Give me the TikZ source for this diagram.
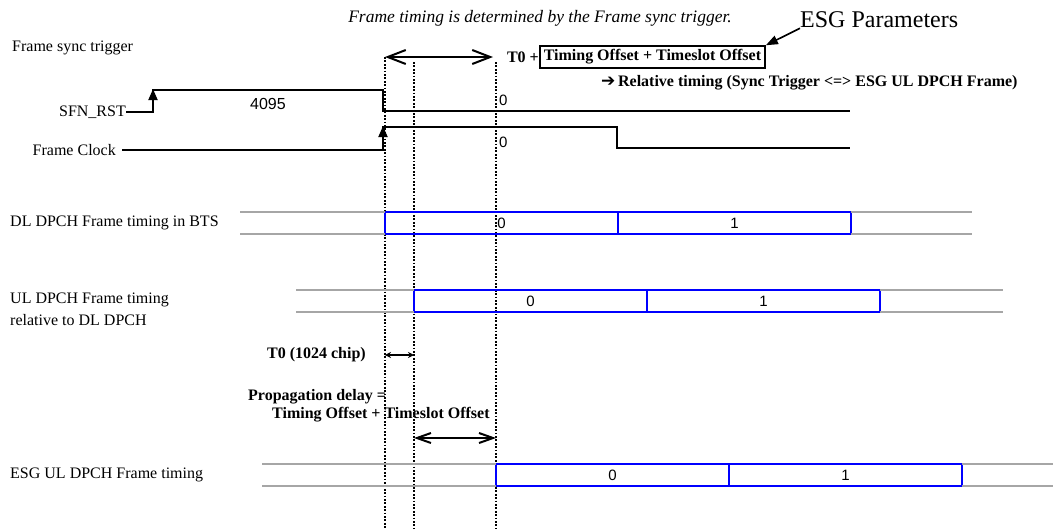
\documentclass[tikz,border=0pt]{standalone}
\usepackage{fontspec}
\setmainfont{Liberation Serif}
\newfontfamily\digitfont{Liberation Sans}
\newfontfamily\glyphfont{DejaVu Sans}
\definecolor{railgray}{RGB}{166,166,166}
\usetikzlibrary{
  calc, % For coordinate calculations
  arrows.meta, % For arrow tips
  positioning % For relative placement
}

\begin{document}
\begin{tikzpicture}[
      x=1pt, y=-1pt, % Pixelraster, y nach unten
      >=Stealth, % Default arrow tip
      signal/.style={line width=1.8pt, line join=miter}, % Style for signal lines
      marker/.style={line width=1.8pt, dash pattern=on 1.7pt off 1.7pt}, % Style for dotted timing lines
      rail/.style={line width=1.8pt, draw=railgray}, % Style for idle rails
      framebox/.style={draw=blue, line width=1.8pt, minimum width=233pt, minimum height=22pt,
        inner sep=0pt, outer sep=0pt, anchor=west, font=\digitfont\fontsize{15}{17}\selectfont},
      txt/.style={font=\fontsize{16}{19}\selectfont, inner sep=0pt},
      btxt/.style={font=\fontsize{16}{19}\selectfont\bfseries, inner sep=0pt},
      digit/.style={font=\digitfont\fontsize{15}{17}\selectfont, inner sep=0pt},
      span/.style={line width=2pt, {Straight Barb[length=18pt,width=14pt]}-{Straight Barb[length=18pt,width=14pt]}},
      risearrow/.style={-{Triangle[length=11pt,width=9pt]}},
    ]
    \useasboundingbox (0,0) rectangle (1053,528);

    % Texte oben
    \node[font=\fontsize{17.5}{20}\selectfont\itshape, inner sep=0pt] (note) at (540,18)
      {Frame timing is determined by the Frame sync trigger.};
    \node[font=\fontsize{24}{28}\selectfont, inner sep=0pt, anchor=west] (esgpar) at (800,20) {ESG Parameters};
    \node[txt, anchor=west] (sync) at (12,48) {Frame sync trigger};
    \node[btxt, draw, line width=1.5pt, inner xsep=4pt, minimum height=22pt, anchor=west] (offs) at (539,57)
      {Timing Offset + Timeslot Offset};
    \node[btxt, anchor=east] (tzero) at (offs.west) {T0 +};
    \node[btxt, anchor=west] (rel) at (601,83)
      {{\glyphfont\fontsize{17}{18}\selectfont ➔}\,Relative timing (Sync Trigger <=> ESG UL DPCH Frame)};
    \draw[line width=1.6pt, -{Triangle[length=12pt,width=9pt]}] (esgpar.south west) -- (offs.north east);

    % Koordinaten der Zeitmarken
    \coordinate (trig) at (385,57);
    \coordinate (ulstart) at (414,62);
    \coordinate (esgstart) at (496,62);
    \foreach \c in {trig, ulstart, esgstart}
    \draw[marker] (\c) -- (\c |- 0,528);

    \draw[span, shorten >=3pt] (trig) -- (esgstart |- trig);

    % Signale
    \node[txt, anchor=east] (sfn) at (126,112) {SFN\_RST};
    \node[txt, anchor=east] (clk) at (116,150) {Frame Clock};
    \draw[signal] (sfn.east) -- (153,112) -- (153,90) -- (383,90) -- (383,111) -- (850,111);
    \draw[signal] (clk.east) ++(6,0) -- (383,150) -- (383,127) -- (617,127) -- (617,148) -- (850,148);
    \draw[signal, risearrow] (153,106) -- (153,89);
    \draw[signal, risearrow] (383,144) -- (383,126);
    \node[digit, font=\digitfont\fontsize{16}{18}\selectfont] (cnt) at (268,104) {4095};
    \node[digit, anchor=west] (sfnzero) at (499,100) {0};
    \node[digit, anchor=west] (clkzero) at (499,142) {0};

    % Rahmen
    \foreach \row/\top/\west/\start/\east in {dl/212/240/385/972, ul/290/296/414/1003, esg/464/262/496/1053} {
      \node[framebox] (\row0) at (\start,\top+11) {0};
      \node[framebox] (\row1) at (\row0.east) {1};
      \draw[rail] (\west,\top) -- (\row0.north west) (\west,\top+22) -- (\row0.south west);
      \draw[rail] (\row1.north east) -- (\east,\top) (\row1.south east) -- (\east,\top+22);
    }
    \node[txt, anchor=west] (dllabel) at (10,223) {DL DPCH Frame timing in BTS};
    \node[txt, anchor=west, align=left, font=\fontsize{16}{22}\selectfont] (ullabel) at (10,309)
      {UL DPCH Frame timing\\relative to DL DPCH};
    \node[txt, anchor=west] (esglabel) at (10,475) {ESG UL DPCH Frame timing};

    % Verzoegerungen
    \node[btxt, anchor=east] (tzerochip) at (366,355) {T0 (1024 chip)};
    \draw[line width=1.2pt, {Stealth[length=6pt,width=6pt]}-{Stealth[length=6pt,width=6pt]}]
      (trig |- tzerochip) -- (ulstart |- tzerochip);
    \node[btxt, anchor=west] (prop) at (248,397) {Propagation delay =};
    \node[btxt, anchor=west] (propsum) at (272,415) {Timing Offset + Timeslot Offset};
    \draw[span, {Straight Barb[length=14pt,width=10pt]}-{Straight Barb[length=14pt,width=10pt]}]
      (ulstart |- 0,438) -- (esgstart |- 0,438);
  \end{tikzpicture}
\end{document}
